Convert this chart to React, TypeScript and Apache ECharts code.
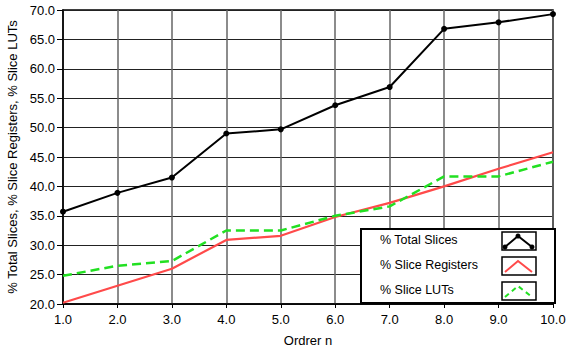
import React, { useEffect, useRef } from "react";
import * as echarts from "echarts";

const orders = [1, 2, 3, 4, 5, 6, 7, 8, 9, 10];
const totalSlices = [35.7, 38.9, 41.5, 49.0, 49.7, 53.8, 56.9, 66.8, 67.9, 69.3];
const sliceRegisters = [20.2, 23.1, 26.0, 30.9, 31.6, 34.8, 37.2, 40.0, 43.0, 45.8];
const sliceLUTs = [24.8, 26.5, 27.3, 32.5, 32.5, 35.0, 36.6, 41.7, 41.7, 44.2];
const legendNames = ["% Total Slices", "% Slice Registers", "% Slice LUTs"];

const FONT = "Liberation Sans, Arial, sans-serif";

export default function App() {
  const ref = useRef<HTMLDivElement>(null);
  useEffect(() => {
    document.body.style.margin = "0";
    const chart = echarts.init(ref.current!, null, { renderer: "svg" });
    const pair = (ys: number[]) => orders.map((x, i) => [x, ys[i]]);
    const lx = 361, ly = 229, lw = 194, lh = 74;
    const rowY = [241, 266, 291];
    const colors = ["#000000", "#ff4a4a", "#22e022"];
    const legendEls: any[] = [
      { type: "rect", shape: { x: lx, y: ly, width: lw, height: lh }, style: { fill: "#fff", stroke: "#000", lineWidth: 2 }, z: 100 },
    ];
    legendNames.forEach((name, i) => {
      legendEls.push({
        type: "text", x: 380, y: rowY[i] - 1, z: 101,
        style: { text: name, font: `12.5px ${FONT}`, fill: "#000", textVerticalAlign: "middle" },
      });
      legendEls.push({
        type: "rect", shape: { x: 502, y: rowY[i] - 9, width: 34, height: 18 }, z: 101,
        style: { fill: "#fff", stroke: "#000", lineWidth: 1.5 },
      });
      legendEls.push({
        type: "polyline", z: 102,
        shape: { points: [[505, rowY[i] + 6], [518, rowY[i] - 5], [532, rowY[i] + 6]] },
        style: { stroke: colors[i], lineWidth: 2, lineDash: i === 2 ? [5, 4] : null, fill: "none" },
      });
      if (i === 0) {
        [[505, rowY[i] + 6], [518, rowY[i] - 5], [532, rowY[i] + 6]].forEach((p) =>
          legendEls.push({ type: "circle", z: 103, shape: { cx: p[0], cy: p[1], r: 2.5 }, style: { fill: "#000" } })
        );
      }
    });

    chart.setOption({
      animation: false,
      backgroundColor: "#fff",
      grid: {
        left: 63, right: 14, top: 10, bottom: 45, show: true, borderColor: "#000", borderWidth: 1.5,
        containLabel: false, outerBoundsMode: "none",
      },
      xAxis: {
        type: "value", min: 1, max: 10, interval: 1,
        name: "Ordrer n", nameLocation: "middle", nameGap: 30,
        nameTextStyle: { fontFamily: FONT, fontSize: 13, color: "#000" },
        axisLine: { lineStyle: { color: "#000", width: 1.5 } },
        axisTick: { show: true, length: 4, lineStyle: { color: "#000" } },
        axisLabel: { fontFamily: FONT, fontSize: 13, color: "#000", formatter: (v: number) => v.toFixed(1), margin: 9 },
        splitLine: { show: true, lineStyle: { color: "#666", width: 1.5 } },
      },
      yAxis: {
        type: "value", min: 20, max: 70, interval: 5,
        name: "% Total Slices, % Slice Registers, % Slice LUTs", nameLocation: "middle", nameGap: 43,
        nameTextStyle: { fontFamily: FONT, fontSize: 13, color: "#000" },
        axisLine: { show: true, lineStyle: { color: "#000", width: 1.5 } },
        axisTick: { show: true, length: 6, lineStyle: { color: "#000" } },
        axisLabel: { fontFamily: FONT, fontSize: 13, color: "#000", formatter: (v: number) => v.toFixed(1), margin: 8 },
        splitLine: { show: true, lineStyle: { color: "#222", width: 1.2 } },
      },
      series: [
        {
          name: legendNames[0], type: "line", data: pair(totalSlices),
          lineStyle: { color: "#000", width: 2 }, itemStyle: { color: "#000" },
          symbol: "circle", symbolSize: 6, showSymbol: true, z: 5,
        },
        {
          name: legendNames[1], type: "line", data: pair(sliceRegisters),
          lineStyle: { color: "#ff4a4a", width: 2.2 }, itemStyle: { color: "#ff4a4a" },
          symbol: "none", z: 4,
        },
        {
          name: legendNames[2], type: "line", data: pair(sliceLUTs),
          lineStyle: { color: "#22e022", width: 2.5, type: [9, 5] }, itemStyle: { color: "#22e022" },
          symbol: "none", z: 4,
        },
      ],
      graphic: legendEls,
    });
    return () => chart.dispose();
  }, []);
  return <div ref={ref} style={{ width: 567, height: 349 }} />;
}
